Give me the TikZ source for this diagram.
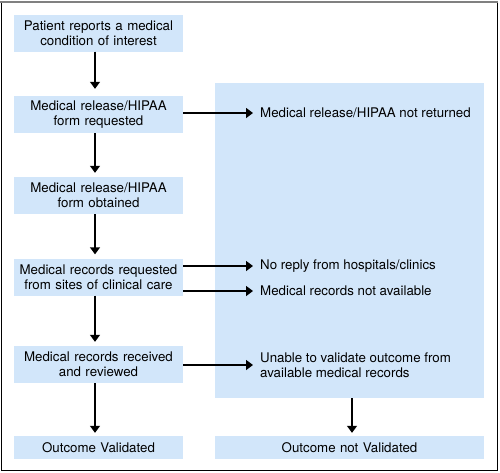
\documentclass[tikz,border=0pt]{standalone}
\usepackage{fontspec}
\setmainfont{TeX Gyre Heros}
\usepackage{tikz}
\usetikzlibrary{shapes, arrows, arrows.meta, calc}
\definecolor{boxblue}{RGB}{210,230,250}
\tikzstyle{stage} = [rectangle, fill=boxblue, text width=165pt, align=center,
    minimum width=169pt, minimum height=37pt, inner sep=0pt]
\tikzstyle{result} = [rectangle, fill=boxblue, text width=260pt, align=center,
    minimum width=269pt, minimum height=23pt, inner sep=0pt]
\tikzstyle{reason} = [rectangle, anchor=west, align=left, inner xsep=7pt, inner ysep=0pt]
\tikzstyle{line} = [draw, line width=1.4pt, -{Triangle[length=7pt,width=10pt]}]

\begin{document}
\begin{tikzpicture}[x=1pt, y=-1pt, font=\fontsize{13.3}{15}\selectfont]
    \useasboundingbox (0,0) rectangle (500,472);
    % Frame
    \draw[line width=0.8pt] (1,1) rectangle (497,470);
    \draw[gray, line width=2pt] (0,1.5) -- (498,1.5);
    % Nodes
    \node [rectangle, fill=boxblue, minimum width=269pt, minimum height=315pt] (fail) at (349.5,240.5) {};
    \node [stage] (patient) at (98.5,33) {Patient reports a medical\\condition of interest};
    \node [stage] (reqform) at (98.5,114.5) {Medical release/HIPAA\\form requested};
    \node [stage] (gotform) at (98.5,195.5) {Medical release/HIPAA\\form obtained};
    \node [stage] (reqrec) at (98.5,277) {Medical records requested\\from sites of clinical care};
    \node [stage] (review) at (98.5,364.5) {Medical records received\\and reviewed};
    \node [stage, minimum height=23pt] (valid) at (98.5,447.5) {Outcome Validated};
    \node [result] (notvalid) at (349.5,447.5) {Outcome not Validated};
    \node [reason] (notret) at (253,113) {Medical release/HIPAA not returned};
    \node [reason] (noreply) at (253,266) {No reply from hospitals/clinics};
    \node [reason] (notavail) at (253,291) {Medical records not available};
    \node [reason] (unable) at (253,365) {Unable to validate outcome from\\available medical records};
    % Edges
    \path [line, shorten >=7pt] ([xshift=-3.5pt]patient.south) -- ([xshift=-3.5pt]reqform.north);
    \path [line, shorten >=4pt] ([xshift=-3.5pt]reqform.south) -- ([xshift=-3.5pt]gotform.north);
    \path [line, shorten >=4pt] ([xshift=-3.5pt]gotform.south) -- ([xshift=-3.5pt]reqrec.north);
    \path [line, shorten >=4pt] ([xshift=-3.5pt]reqrec.south) -- ([xshift=-3.5pt]review.north);
    \path [line, shorten >=3pt] ([xshift=-3.5pt]review.south) -- ([xshift=-3.5pt]valid.north);
    \path [line] (reqform.east |- notret.west) -- (notret.west);
    \path [line] (reqrec.east |- noreply.west) -- (noreply.west);
    \path [line] (reqrec.east |- notavail.west) -- (notavail.west);
    \path [line] (review.east |- unable.west) -- (unable.west);
    \path [line, shorten >=3pt] ([xshift=2.5pt]fail.south) -- ([xshift=2.5pt]notvalid.north);
\end{tikzpicture}
\end{document}
